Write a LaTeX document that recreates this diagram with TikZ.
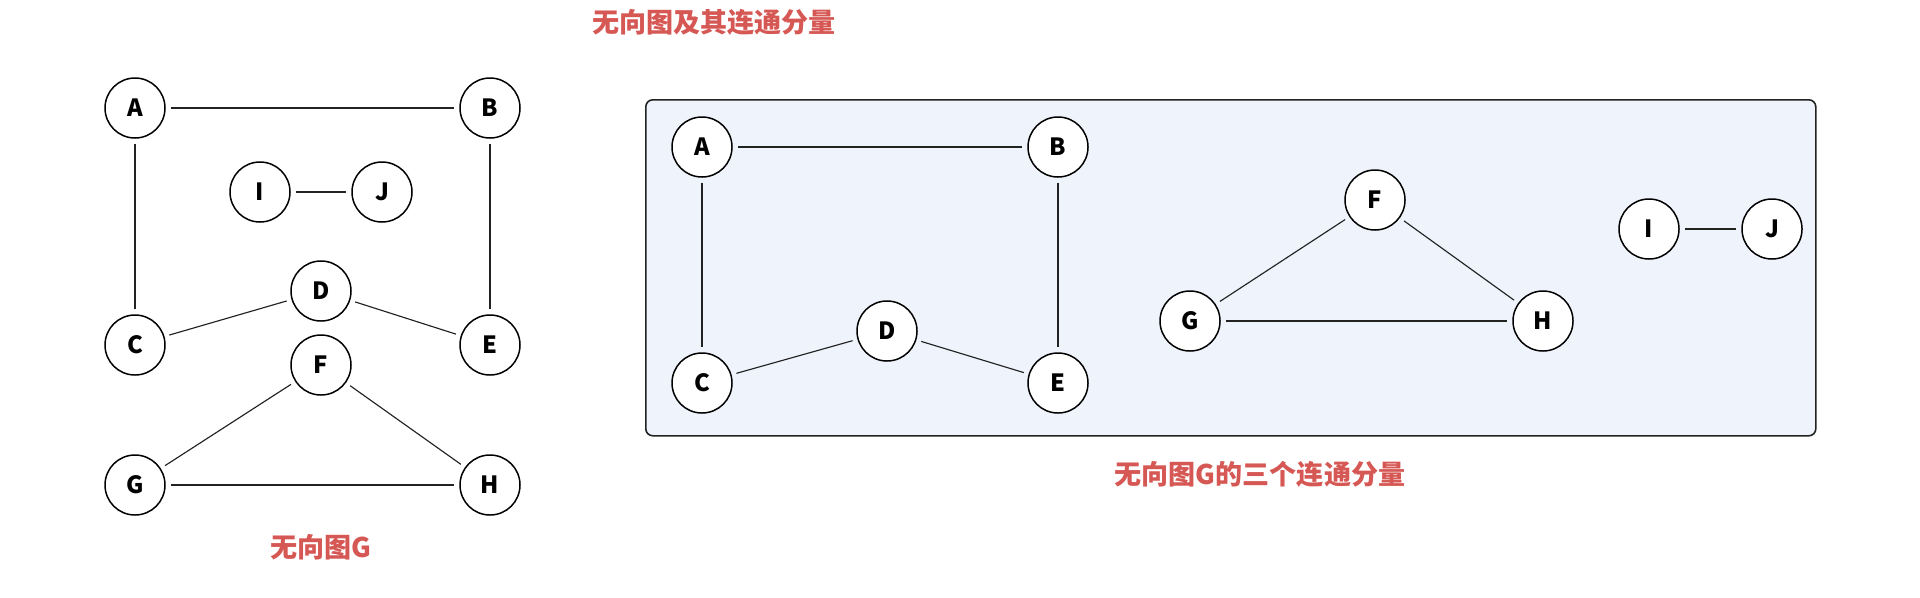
\documentclass[tikz,border=0pt]{standalone}
\usepackage{fontspec}
\setmainfont{Noto Sans CJK SC}
\usepackage{xcolor}
\usepackage{tikz}
\definecolor{ug@red}{RGB}{214, 88, 84}
\definecolor{ug@edge}{RGB}{34, 34, 34}
\definecolor{ug@boxfill}{RGB}{238, 243, 252}

\begin{document}
\begin{tikzpicture}[
  vert/.style  = {circle, draw=black, fill=white, line width=0.85pt,
                  minimum size=1.2cm, inner sep=0pt,
                  font=\fontsize{13.5}{16}\selectfont\bfseries},
  compbox/.style = {rectangle, rounded corners=4pt, draw=ug@edge,
                  fill=ug@boxfill, line width=0.9pt},
  edge/.style  = {ug@edge, line width=0.65pt, shorten <=0.1cm, shorten >=0.1cm},
  ttl/.style   = {text=ug@red, font=\fontsize{15.4}{18}\selectfont\bfseries,
                  inner sep=0pt},
]
  \useasboundingbox (0,0) rectangle (38.4,-11.94);

  \node[ttl] (title) at (14.28,-0.44) {无向图及其连通分量};

  % undirected graph G
  \node[vert] (gA) at (2.70,-2.16) {A};
  \node[vert] (gB) at (9.80,-2.16) {B};
  \node[vert] (gI) at (5.20,-3.84) {I};
  \node[vert] (gJ) at (7.64,-3.84) {J};
  \node[vert] (gD) at (6.42,-5.82) {D};
  \node[vert] (gC) at (2.70,-6.90) {C};
  \node[vert] (gE) at (9.80,-6.90) {E};
  \node[vert] (gF) at (6.42,-7.30) {F};
  \node[vert] (gG) at (2.70,-9.70) {G};
  \node[vert] (gH) at (9.80,-9.70) {H};

  \draw[edge] (gA) -- (gB);
  \draw[edge] (gA) -- (gC);
  \draw[edge] (gB) -- (gE);
  \draw[edge] (gC) -- (gD);
  \draw[edge] (gD) -- (gE);
  \draw[edge] (gI) -- (gJ);
  \draw[edge] (gF) -- (gG);
  \draw[edge] (gF) -- (gH);
  \draw[edge] (gG) -- (gH);

  \node[ttl] (gcap) at (6.42,-10.94) {无向图G};

  % the three connected components
  \node[compbox, minimum width=23.4cm, minimum height=6.72cm, anchor=north west]
    (comp) at (12.9,-1.98) {};

  \node[vert] (cA) at (14.04,-2.94) {A};
  \node[vert] (cB) at (21.16,-2.94) {B};
  \node[vert] (cC) at (14.04,-7.66) {C};
  \node[vert] (cD) at (17.74,-6.62) {D};
  \node[vert] (cE) at (21.16,-7.66) {E};
  \node[vert] (cF) at (27.50,-4.00) {F};
  \node[vert] (cG) at (23.80,-6.42) {G};
  \node[vert] (cH) at (30.86,-6.42) {H};
  \node[vert] (cI) at (32.98,-4.58) {I};
  \node[vert] (cJ) at (35.44,-4.58) {J};

  \draw[edge] (cA) -- (cB);
  \draw[edge] (cA) -- (cC);
  \draw[edge] (cB) -- (cE);
  \draw[edge] (cC) -- (cD);
  \draw[edge] (cD) -- (cE);
  \draw[edge] (cF) -- (cG);
  \draw[edge] (cF) -- (cH);
  \draw[edge] (cG) -- (cH);
  \draw[edge] (cI) -- (cJ);

  \node[ttl] (ccap) at (25.2,-9.48) {无向图G的三个连通分量};
\end{tikzpicture}
\end{document}
